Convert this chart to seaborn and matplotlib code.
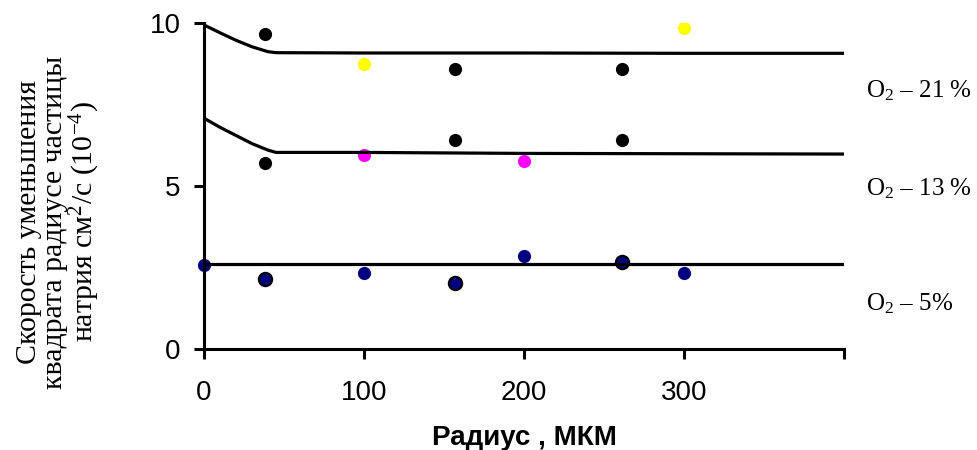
import matplotlib
matplotlib.use("Agg")
import matplotlib.pyplot as plt
import seaborn as sns

# fitted curves (radius, мкм -> rate)
fit_x = [0, 10, 20, 30, 40, 45, 100, 200, 300, 400]
fit_21 = [9.94, 9.70, 9.47, 9.27, 9.12, 9.09, 9.08, 9.08, 9.07, 9.07]
fit_13 = [7.08, 6.80, 6.55, 6.30, 6.10, 6.03, 6.03, 6.00, 5.99, 5.98]
fit_5 = [2.61, 2.61, 2.61, 2.61, 2.61, 2.61, 2.61, 2.61, 2.61, 2.61]

# measured points
black_x = [38, 157, 261]
black_21 = [9.66, 8.59, 8.59]
black_13 = [5.71, 6.41, 6.41]
yellow_x = [100, 300]
yellow_y = [8.74, 9.85]
magenta_x = [100, 200]
magenta_y = [5.95, 5.77]
navy_x = [0, 100, 200, 300]
navy_y = [2.58, 2.34, 2.86, 2.34]
navy_edge_x = [38, 157, 261]
navy_edge_y = [2.15, 2.01, 2.67]

labels = ["O$_2$ – 21 %", "O$_2$ – 13 %", "O$_2$ – 5%"]

sns.set_style("ticks")
plt.rcParams["font.family"] = ["Liberation Sans", "DejaVu Sans"]
plt.rcParams["text.color"] = "black"
plt.rcParams["axes.labelcolor"] = "black"
plt.rcParams["mathtext.fontset"] = "custom"
plt.rcParams["mathtext.rm"] = "Liberation Serif"
plt.rcParams["mathtext.it"] = "Liberation Serif"

fig = plt.figure(figsize=(9.77, 4.5), dpi=100)
ax = fig.add_axes([204 / 977, 1 - 349 / 450, 640 / 977, 326 / 450])

for ys in (fit_21, fit_13, fit_5):
    sns.lineplot(x=fit_x, y=ys, color="black", linewidth=2.3, ax=ax)

sz = 90
sns.scatterplot(x=black_x, y=black_21, color="black", s=sz, linewidth=0, ax=ax)
sns.scatterplot(x=black_x, y=black_13, color="black", s=sz, linewidth=0, ax=ax)
sns.scatterplot(x=yellow_x, y=yellow_y, color="#FFFF00", s=sz, linewidth=0, ax=ax)
sns.scatterplot(x=magenta_x, y=magenta_y, color="#FF00FF", s=sz, linewidth=0, ax=ax)
sns.scatterplot(x=navy_x, y=navy_y, color="#000080", s=sz, linewidth=0, ax=ax, clip_on=False)
sns.scatterplot(x=navy_edge_x, y=navy_edge_y, color="#000080", edgecolor="black",
                s=sz, linewidth=1.6, ax=ax)

ax.set_xlim(0, 400)
ax.set_ylim(0, 10)
ax.set_xticks([0, 100, 200, 300, 400])
ax.set_xticklabels(["0", "100", "200", "300", ""])
ax.set_yticks([0, 5, 10])
sns.despine(ax=ax)
for s in ("left", "bottom"):
    ax.spines[s].set_linewidth(2.2)
    ax.spines[s].set_color("black")
ax.tick_params(axis="both", direction="out", length=7, width=2.2, color="black",
               labelsize=20, labelcolor="black")
ax.tick_params(axis="x", pad=15)
ax.tick_params(axis="y", pad=10)

ax.set_xlabel("Радиус , МКМ", fontsize=20, fontweight="bold", labelpad=14,
              color="black")

fig.text(59 / 977, 1 - 222 / 450,
         "Скорость уменьшения\nквадрата радиусе частицы\nнатрия см$^{2}$/с (10$^{-4}$)",
         rotation=90, ha="center", va="center", multialignment="center",
         family="Liberation Serif", fontsize=21.5, linespacing=0.98, color="black")

for lab, yp in zip(labels, [97, 195, 310]):
    fig.text(866 / 977, 1 - yp / 450, lab, ha="left", va="baseline",
             family="Liberation Serif", fontsize=18, color="black")

fig.savefig("out.png", dpi=100)
